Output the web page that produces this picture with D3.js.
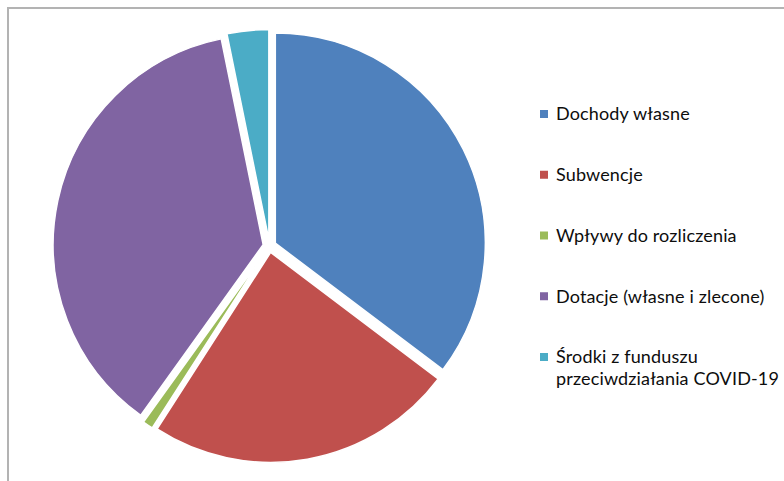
<!DOCTYPE html>
<html>
<head>
<meta charset="utf-8">
<script src="https://cdn.jsdelivr.net/npm/d3@7"></script>
<style>
  html, body { margin: 0; padding: 0; background: #ffffff; }
  svg { display: block; }
</style>
</head>
<body>
<svg id="chart" width="784" height="481"></svg>
<script>
const categories = ["Dochody własne", "Subwencje", "Wpływy do rozliczenia", "Dotacje (własne i zlecone)", "Środki z funduszu przeciwdziałania COVID-19"];
const legendLines = [["Dochody własne"], ["Subwencje"], ["Wpływy do rozliczenia"], ["Dotacje (własne i zlecone)"], ["Środki z funduszu", "przeciwdziałania COVID-19"]];
const values = [35.3, 23.8, 0.8, 36.9, 3.2];
const colors = ["#4F81BD", "#C0504D", "#9BBB59", "#8064A2", "#4BACC6"];

const svg = d3.select("#chart");

// chart frame
svg.append("path")
  .attr("d", "M8,490 L8,8 L800,8")
  .attr("fill", "none")
  .attr("stroke", "#b3b3b3")
  .attr("stroke-width", 2);

const cx = 269.5, cy = 246, r = 210, explode = 6.5;

const data = categories.map((c, i) => ({ name: c, value: values[i], color: colors[i] }));
const pie = d3.pie().sort(null).value(d => d.value);
const arc = d3.arc().innerRadius(0).outerRadius(r);

const g = svg.append("g").attr("transform", `translate(${cx},${cy})`);
g.selectAll("path.slice")
  .data(pie(data))
  .join("path")
  .attr("class", "slice")
  .attr("d", arc)
  .attr("fill", d => d.data.color)
  .attr("stroke", "#ffffff")
  .attr("stroke-width", 1.5)
  .attr("stroke-linejoin", "round")
  .attr("transform", d => {
    const a = (d.startAngle + d.endAngle) / 2;
    return `translate(${explode * Math.sin(a)},${-explode * Math.cos(a)})`;
  });

// legend
const legendY = d3.scalePoint().domain(categories).range([114, 357]);
const lg = svg.append("g");
const items = lg.selectAll("g.item").data(data).join("g")
  .attr("class", "item")
  .attr("transform", d => `translate(540,${legendY(d.name)})`);
items.append("rect")
  .attr("x", 0).attr("y", -4).attr("width", 8).attr("height", 8)
  .attr("fill", d => d.color);
items.each(function(d, i) {
  const t = d3.select(this).append("text")
    .attr("x", 16).attr("y", 0)
    .attr("font-family", "Lato, 'Liberation Sans', sans-serif")
    .attr("font-size", 18)
    .attr("letter-spacing", 0.15)
    .attr("fill", "#0d0d0d");
  legendLines[i].forEach((line, j) => {
    t.append("tspan").attr("x", 16).attr("dy", j === 0 ? "0.35em" : 22).text(line);
  });
});
</script>
</body>
</html>
